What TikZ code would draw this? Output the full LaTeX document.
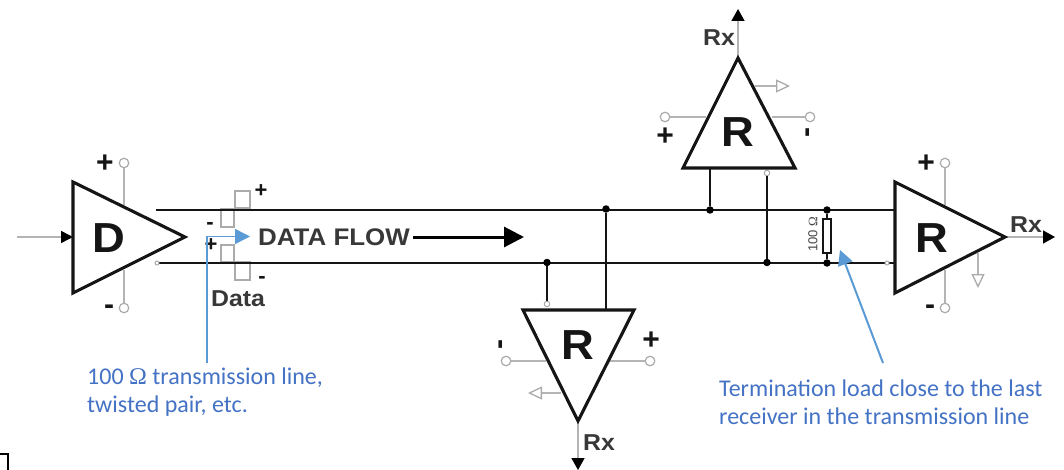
\documentclass[tikz,border=0pt]{standalone}
\usepackage{fontspec}
\setmainfont{Liberation Sans}
\newfontfamily\widefont[FakeStretch=1.08]{Liberation Sans}
\newfontfamily\carlitofont{Carlito}
\newfontfamily\omegafont{Liberation Serif}
\usetikzlibrary{arrows.meta}
\definecolor{wiregray}{HTML}{B4B4B4}
\definecolor{opengray}{HTML}{ABABAB}
\definecolor{bluetext}{HTML}{4472C4}
\definecolor{bluearrow}{HTML}{5B9BD5}
\definecolor{inkblack}{HTML}{151515}
\tikzset{
  x=1pt,y=-1pt,
  amp/.style={draw=inkblack,line width=3.1pt,line join=miter,fill=white},
  ampletter/.style={font=\widefont\fontsize{42}{42}\selectfont\bfseries,text=inkblack,inner sep=0pt},
  bus/.style={draw=inkblack,line width=2pt},
  tap/.style={draw=inkblack,line width=1.6pt},
  wire/.style={draw=wiregray,line width=1.5pt},
  term/.style={circle,draw=opengray,line width=1.2pt,fill=white,minimum size=9.5pt,inner sep=0pt},
  smallterm/.style={circle,draw=opengray,line width=1pt,fill=white,minimum size=5.5pt,inner sep=0pt},
  junction/.style={circle,fill=black,minimum size=7.5pt,inner sep=0pt},
  sign/.style={font=\fontsize{30}{30}\selectfont\bfseries,text=inkblack,inner sep=0pt},
  smallsign/.style={font=\fontsize{22}{22}\selectfont\bfseries,text=inkblack,inner sep=0pt},
  rxlabel/.style={font=\widefont\fontsize{23}{23}\selectfont\bfseries,text=inkblack!85,inner sep=0pt},
  outwire/.style={draw=wiregray,line width=1.5pt,-{Triangle[length=12pt,width=13pt,black]}},
  hollow/.style={draw=wiregray,line width=1.3pt,-{Triangle[open,length=14pt,width=13pt,opengray]}},
  pulse/.style={draw=opengray,line width=1.3pt,fill=white},
  note/.style={font=\carlitofont\fontsize{24}{28}\selectfont,text=bluetext,align=left,anchor=west,inner sep=0pt},
  callout/.style={draw=bluearrow,line width=1.6pt},
}
\begin{document}
\begin{tikzpicture}
\useasboundingbox (0,0) rectangle (1064,470);
\fill[white] (0,0) rectangle (1064,470);
% corner fragment
\draw[black,line width=1.2pt] (0,454) -- (8,454) -- (8,470);

% transmission line anchors
\coordinate (tl) at (156,210);
\coordinate (bl) at (156,262.5);
\coordinate (tr) at (895,210);
\coordinate (br) at (895,262.5);

% data pulses
\draw[pulse] (235,191) rectangle (250,208);
\draw[pulse] (221,209) rectangle (234,227);
\draw[pulse] (221,245) rectangle (234,262);
\draw[pulse] (235,262) rectangle (250,280);

% bus
\draw[bus] (tl) -- (tr);
\draw[bus] (bl) -- (br);
\node[smallterm,minimum size=4pt] (busend) at (157,263) {};
\node[smallterm,minimum size=4pt] (busendr) at (887,263) {};

% driver supply wires and terminals
\node[term] (dplus) at (124,163) {};
\node[term] (dminus) at (124,308) {};
\coordinate (dpin) at (124,205);
\coordinate (dmin) at (124,270);
\draw[wire] (dplus) -- (dpin);
\draw[wire] (dminus) -- (dmin);
% driver
\coordinate (din) at (17,237);
\coordinate (dleft) at (73,237);
\draw[wire,-{Triangle[length=12pt,width=12pt,black]}] (din) -- (dleft);
\draw[amp] (73,182) -- (185,237) -- (73,293) -- cycle;
\node[ampletter] (D) at (108.5,238) {D};
\node[sign] (dplustxt) at (105,164) {+};
\node[sign] (dminustxt) at (109,310) {-};

% labels at data pulses
\node[smallsign] (pa) at (261,191) {+};
\node[smallsign] (pb) at (210,226) {-};
\node[smallsign] (pc) at (211,245) {+};
\node[smallsign] (pd) at (262,280) {-};
\node[font=\widefont\fontsize{23}{23}\selectfont\bfseries,text=inkblack!85,inner sep=0pt] (data) at (238,299) {Data};

% data flow
\node[font=\widefont\fontsize{24}{24}\selectfont\bfseries,text=inkblack!85,anchor=west,inner sep=0pt] (flow) at (258,237) {DATA FLOW};
\coordinate (flowtip) at (524,237);
\draw[draw=black,line width=3pt,shorten <=3pt,-{Triangle[length=20pt,width=20pt,black]}] (flow.east) -- (flowtip);

% bottom receiver
\node[junction] (j1) at (547,262.5) {};
\node[junction] (j2) at (606,209) {};
\node[smallterm] (bterm) at (547,304) {};
\coordinate (bin2) at (606,310);
\draw[tap] (j1) -- (bterm);
\draw[tap] (j2) -- (bin2);
\node[term] (bminus) at (506,361) {};
\node[term] (bplus) at (650,361) {};
\coordinate (bml) at (546,361);
\coordinate (bpl) at (610,361);
\draw[wire] (bminus) -- (bml);
\draw[wire] (bplus) -- (bpl);
\coordinate (bhs) at (561,393);
\coordinate (bht) at (528,393);
\draw[hollow] (bhs) -- (bht);
\coordinate (btip) at (578,421);
\coordinate (bout) at (578,470);
\draw[outwire] (btip) -- (bout);
\draw[amp] (523,310) -- (634,310) -- (578,421) -- cycle;
\node[ampletter] (Rb) at (578,345) {R};
\node[rxlabel] (rxb) at (599,443) {Rx};
\node[sign,rotate=90] (bminustxt) at (504,345) {-};
\node[sign] (bplustxt) at (651,341) {+};

% top receiver
\node[junction] (j3) at (710,210) {};
\node[junction] (j4) at (767,262.5) {};
\node[smallterm] (tterm) at (767,173) {};
\coordinate (tin1) at (710,168);
\draw[tap] (j3) -- (tin1);
\draw[tap] (j4) -- (tterm);
\node[term] (tplus) at (665,117) {};
\node[term] (tminus) at (810,117) {};
\coordinate (tpl) at (706,117);
\coordinate (tml) at (772,117);
\draw[wire] (tplus) -- (tpl);
\draw[wire] (tminus) -- (tml);
\coordinate (ths) at (755,86);
\coordinate (tht) at (790,86);
\draw[hollow] (ths) -- (tht);
\coordinate (ttip) at (738,58);
\coordinate (tout) at (738,9);
\draw[outwire] (ttip) -- (tout);
\draw[amp] (683,168) -- (795,168) -- (738,58) -- cycle;
\node[ampletter] (Rt) at (738,132) {R};
\node[rxlabel] (rxt) at (719,38) {Rx};
\node[sign] (tplustxt) at (665,137) {+};
\node[sign,rotate=90] (tminustxt) at (811,133) {-};

% termination resistor
\node[junction] (j5) at (827,210) {};
\node[junction] (j6) at (827,263) {};
\node[draw=inkblack,line width=1.2pt,fill=white,minimum width=8pt,minimum height=34pt,inner sep=0pt] (res) at (827,236) {};
\draw[tap] (j5) -- (res);
\draw[tap] (j6) -- (res);
\node[rotate=90,font=\fontsize{13}{13}\selectfont,text=inkblack!80,inner sep=0pt] (reslabel) at (813,234) {100 {\omegafont Ω}};

% right receiver
\node[term] (rplus) at (945,163) {};
\node[term] (rminus) at (945,308) {};
\coordinate (rpl) at (945,205);
\coordinate (rml) at (945,270);
\draw[wire] (rplus) -- (rpl);
\draw[wire] (rminus) -- (rml);
\coordinate (rhs) at (978,253);
\coordinate (rht) at (978,288);
\draw[hollow] (rhs) -- (rht);
\coordinate (rtip) at (1005,237);
\coordinate (rout) at (1055,237);
\draw[outwire] (rtip) -- (rout);
\draw[amp] (895,182) -- (1005,237) -- (895,293) -- cycle;
\node[ampletter] (Rr) at (932,238) {R};
\node[rxlabel] (rxr) at (1026,225) {Rx};
\node[sign] (rplustxt) at (926,164) {+};
\node[sign] (rminustxt) at (930,310) {-};

% blue callouts
\node[note] (note1) at (87,392) {100 {\omegafont Ω} transmission line,\\twisted pair, etc.};
\node[note] (note2) at (719,402) {Termination load close to the last\\receiver in the transmission line};
\coordinate (c1s) at (207,363);
\coordinate (c1m) at (207,236.5);
\coordinate (c1t) at (250,236.5);
\draw[callout,-{Triangle[length=15pt,width=15pt,bluearrow]}] (c1s) -- (c1m) -- (c1t);
\coordinate (c2s) at (883,363);
\coordinate (c2t) at (840,250);
\draw[callout,line width=2pt,-{Triangle[length=15pt,width=15pt,bluearrow]}] (c2s) -- (c2t);
\end{tikzpicture}
\end{document}
